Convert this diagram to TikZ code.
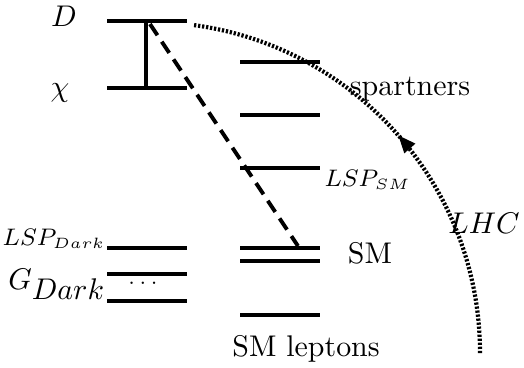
\documentclass[tikz,border=0pt]{standalone}
\usepackage{amsmath}
\usetikzlibrary{arrows.meta, decorations.markings}

\begin{document}
\begin{tikzpicture}[
    x=0.01175cm, y=-0.01175cm,
    energy/.style={line width=1.35pt},
    levtext/.style={inner sep=0pt, anchor=base},
    smalltext/.style={inner sep=0pt, anchor=base, font=\fontsize{7.6}{9}\selectfont},
    decay/.style={line width=1.3pt, dash pattern=on 4.5pt off 2.6pt},
    lhcpath/.style={line width=1.4pt, dash pattern=on 0.75pt off 0.6pt, postaction={decorate},
        decoration={markings, mark=at position 0.5 with {\arrow{Triangle[length=6pt,width=4.5pt]}}}}
]
\useasboundingbox (0,0) rectangle (524,367);

% Dark sector levels
\draw[energy] (107,21) coordinate (dl) -- (187,21) coordinate (dr);
\draw[energy] (107,88) coordinate (chil) -- (187,88) coordinate (chir);
\foreach \y in {248,274,301}
    \draw[energy] (107,\y) -- (187,\y);
\coordinate (dmid) at (146,21);
\coordinate (chimid) at (146,88);
\draw[energy] (dmid) -- (chimid);

% SM sector levels
\foreach \y in {62,115,168,248,261,315}
    \draw[energy] (240,\y) -- (320,\y);

% Labels
\node[levtext] (dlab) at (64,26) {$D$};
\node[levtext] (chilab) at (60,96) {$\chi$};
\node[smalltext] (lspdark) at (54,245) {$LSP_{Dark}$};
\node[levtext, font=\fontsize{9.6}{11}\selectfont] (gdark) at (57,289) {$G_{\textstyle Dark}$};
\node[inner sep=0pt, font=\scriptsize] (dots) at (145,284) {$\cdots$};
\node[levtext] (spart) at (410,95) {spartners};
\node[smalltext, anchor=base west] (lspsm) at (324,186) {$LSP_{SM}$};
\node[levtext] (sm) at (370,263) {SM};
\node[levtext] (smlep) at (306,356) {SM leptons};
\node[levtext] (lhc) at (484,233) {$LHC$};

% Decay and production
\coordinate (dtop) at (150,24);
\coordinate (smtop) at (298,246);
\draw[decay] (dtop) -- (smtop);
\coordinate (lhcin) at (480,353);
\draw[lhcpath] (lhcin) arc[start angle=0, end angle=-82.4, radius=331];

\end{tikzpicture}
\end{document}
